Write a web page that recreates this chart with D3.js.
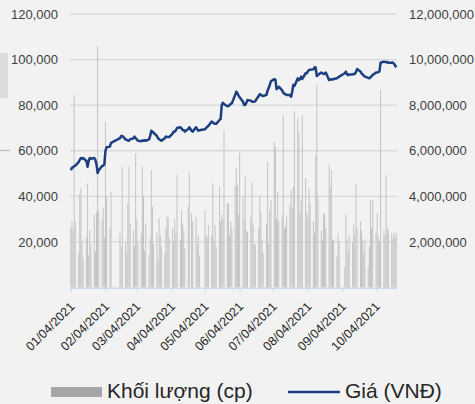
<!DOCTYPE html>
<html><head><meta charset="utf-8">
<script src="https://cdn.jsdelivr.net/npm/d3@7"></script>
<style>
html,body{margin:0;padding:0;background:#f2f2f2;}
svg{display:block;font-family:"Liberation Sans",Arial,sans-serif;}
</style>
</head><body>
<svg id="c" width="475" height="404"></svg>
<script>
// ---------- DATA ----------
const months = ["2021-01","2021-02","2021-03","2021-04","2021-05","2021-06","2021-07","2021-08","2021-09","2021-10"];
const tradingDays = [
  [4,5,6,7,8,11,12,13,14,15,18,19,20,21,22,25,26,27,28,29],
  [1,2,3,4,5,8,9,17,18,19,22,23,24,25,26],
  [1,2,3,4,5,8,9,10,11,12,15,16,17,18,19,22,23,24,25,26,29,30,31],
  [1,2,5,6,7,8,9,12,13,14,15,16,19,20,22,23,26,27,28,29],
  [4,5,6,7,10,11,12,13,14,17,18,19,20,21,24,25,26,27,28,31],
  [1,2,3,4,7,8,9,10,11,14,15,16,17,18,21,22,23,24,25,28,29,30],
  [1,2,5,6,7,8,9,12,13,14,15,16,19,20,21,22,23,26,27,28,29,30],
  [2,3,4,5,6,9,10,11,12,13,16,17,18,19,20,23,24,25,26,27,30,31],
  [1,6,7,8,9,10,13,14,15,16,17,20,21,22,23,24,27,28,29,30],
  [1,4,5,6,7,8,11,12,13,14,15,18,19,20,21,22]
];
// Giá (VNĐ), in thousands
const priceK = [
  51.5,52.5,52.8,53.2,53.5,55,56,56.8,56.5,56.8,55.5,53,55.5,56.8,56.5,56.8,56,54,50.2,51.5,
  53.3,53.5,54,60,61.5,61.8,63.5,65.5,66.5,66.5,65,64.8,64.5,64.4,65,
  65.5,66.2,65.5,65,64.4,64.2,64.5,64.4,64.6,64.4,65,66.5,68.8,68.3,67.9,66.5,65.5,65,64.8,64.4,65.5,66.2,66,
  66,66,67.5,68.4,68.4,69,70,70.3,69.8,69.1,69.1,68.4,69.5,70.3,68.8,68.4,70.3,69.5,68.8,69,
  69.4,70,70.5,70.9,72.8,72.5,72,71.8,71.8,73.5,74,80,81,80.5,79.5,79.6,80.1,80.5,80.8,84.5,
  85.9,85.2,84.2,83.5,81.5,80.1,80.1,81,82.3,82,81.5,81.5,81.5,81.8,84,84.9,84.5,84.2,84,84.5,86.5,87.5,
  89,90.5,91.4,91.2,87,87.5,88.1,86.5,85.5,85,84.8,84.5,84.5,83.7,86,88.9,88.4,91.8,91,91.5,92.5,91.5,
  94,94,94.8,95.4,95.5,95.7,96.6,96.5,92.8,93.2,94.3,94,93.7,93.8,94.3,91,91.2,91.4,91.2,91.5,91.8,92.2,
  92.5,94,94.7,93.5,93.2,93.5,93.5,93.7,93.7,94.5,95.8,94.8,94,93.5,93,92.5,92,91.8,92.2,92.8,
  93.2,94.3,94.3,94.5,94.7,98.6,99.1,99,98.8,99,98.6,98.6,98.7,98.2,97.5,96.6
];
// Khối lượng (cp), in millions
const volumeM = [
  2.6,2.9,2.5,8.45,2.9,1.5,4.1,4.35,2.0,1.3,2.2,4.57,1.4,2.5,1.9,3.2,1.6,3.3,10.57,3.4,
  3.0,3.5,2.2,7.28,4.0,2.6,4.2,2.4,1.8,5.3,2.0,1.5,3.7,5.3,2.8,
  2.5,1.8,5.89,3.0,2.0,2.4,5.3,4.0,1.6,2.8,1.4,2.2,5.16,3.55,1.9,2.4,1.2,3.04,2.3,1.8,1.5,2.6,3.1,
  3.1,2.2,2.6,2.0,3.0,2.4,4.94,2.09,3.4,2.8,2.5,1.7,3.55,5.04,3.26,2.9,3.1,1.9,2.3,1.4,
  3.4,2.3,2.2,2.75,2.3,4.57,2.0,2.75,1.8,4.43,2.9,3.2,3.0,6.9,3.7,3.68,2.3,2.9,2.6,4.43,
  5.23,4.5,3.2,5.92,4.0,3.0,4.86,2.5,2.45,3.1,4.6,2.75,1.85,1.9,2.6,4.0,3.26,2.1,1.5,2.8,5.52,1.9,
  3.4,3.84,6.4,6.18,3.0,4.2,2.9,3.2,7.57,2.6,2.7,3.1,3.62,4.28,3.5,4.43,7.72,7.42,6.77,3.3,3.84,7.57,
  4.8,3.26,3.1,4.35,3.7,2.9,2.4,5.81,8.89,4.0,2.5,2.07,3.26,3.2,2.6,5.38,4.43,5.16,2.1,2.1,1.36,2.38,
  2.0,0.9,3.2,2.1,1.55,2.3,2.0,2.75,2.3,4.54,2.6,2.9,2.5,2.1,1.55,2.1,0.95,1.8,3.84,2.6,
  3.84,2.4,3.26,2.2,2.0,8.67,2.5,2.3,4.94,2.6,2.5,2.4,2.1,2.4,2.2,2.4
];
const leftTicks = [20000,40000,60000,80000,100000,120000];
const rightTicks = [2000000,4000000,6000000,8000000,10000000,12000000];
const xTickLabels = ["01/04/2021","02/04/2021","03/04/2021","04/04/2021","05/04/2021",
                     "06/04/2021","07/04/2021","08/04/2021","09/04/2021","10/04/2021"];
const seriesNames = ["Khối lượng (cp)","Giá (VNĐ)"];

// ---------- BUILD ----------
const parseDay = d3.timeParse("%Y-%m-%d");
const dates = [];
months.forEach((m,i)=>tradingDays[i].forEach(d=>dates.push(parseDay(m+"-"+String(d).padStart(2,"0")))));
const rows = dates.map((d,i)=>({date:d, price:priceK[i]*1000, vol:volumeM[i]*1e6}));

const svg = d3.select("#c");
const W=475,H=404;
svg.append("rect").attr("width",W).attr("height",H).attr("fill","#f2f2f2");
// cropped artefacts at the left edge
svg.append("rect").attr("x",0).attr("y",53).attr("width",8).attr("height",45).attr("fill","#dcdcdc");
svg.append("line").attr("x1",0).attr("x2",10).attr("y1",150.5).attr("y2",150.5).attr("stroke","#bdbdbd").attr("stroke-width",1.3);

const x0=70, x1=397, yTop=14, yBot=287.5;
const x = d3.scaleTime().domain([parseDay("2021-01-04"), parseDay("2021-10-22")]).range([70.8, 396.2]);
const yL = d3.scaleLinear().domain([0,120000]).range([yBot,yTop]);
const yR = d3.scaleLinear().domain([0,12000000]).range([yBot,yTop]);

// gridlines
svg.append("g").selectAll("line").data(leftTicks).join("line")
  .attr("x1",x0).attr("x2",x1).attr("y1",d=>yL(d)).attr("y2",d=>yL(d))
  .attr("stroke","#d9d9d9").attr("stroke-width",1.3);

// bars
svg.append("g").selectAll("rect").data(rows).join("rect")
  .attr("x",d=>x(d.date)-0.5).attr("width",1.0)
  .attr("y",d=>yR(d.vol)).attr("height",d=>yBot-yR(d.vol))
  .attr("fill","#c4c4c4");

// price line
svg.append("path").datum(rows)
  .attr("d",d3.line().x(d=>x(d.date)).y(d=>yL(d.price)))
  .attr("fill","none").attr("stroke","#1b3f80").attr("stroke-width",2.5).attr("stroke-linejoin","round");

// left axis
const fmt = d3.format(",");
const gl = svg.append("g").attr("transform",`translate(${x0},0)`)
  .call(d3.axisLeft(yL).tickValues(leftTicks).tickSize(0).tickPadding(12).tickFormat(fmt));
gl.select(".domain").remove();
gl.selectAll("text").attr("font-size",13).attr("fill","#404040").attr("font-family","Liberation Sans, Arial, sans-serif");

const gr = svg.append("g").attr("transform",`translate(${x1},0)`)
  .call(d3.axisRight(yR).tickValues(rightTicks).tickSize(0).tickPadding(12).tickFormat(fmt));
gr.select(".domain").remove();
gr.selectAll("text").attr("font-size",13).attr("fill","#404040").attr("font-family","Liberation Sans, Arial, sans-serif");

// bottom axis
const parseTick = d3.timeParse("%m/%d/%Y");
const tickDates = xTickLabels.map(parseTick);
const gb = svg.append("g").attr("transform",`translate(0,${yBot+0.8})`)
  .call(d3.axisBottom(x).tickValues(tickDates).tickSize(3.5).tickSizeOuter(0).tickFormat(d3.timeFormat("%m/%d/%Y")));
gb.select(".domain").attr("stroke","#c9daf2").attr("stroke-width",1.4).attr("d",`M${x0},0H${x1}`);
gb.selectAll(".tick line").attr("stroke","#c9daf2").attr("stroke-width",1.2);
gb.selectAll("text")
  .attr("font-size",12.5).attr("fill","#262626").attr("font-family","Liberation Sans, Arial, sans-serif")
  .attr("text-anchor","end").attr("dy",null).attr("y",null)
  .attr("transform","translate(4,19) rotate(-45)");

// legend
const lg = svg.append("g");
lg.append("rect").attr("x",51).attr("y",387).attr("width",51).attr("height",10).attr("fill","#a6a6a6");
lg.append("text").attr("x",107).attr("y",398).attr("font-size",21).attr("fill","#262626").text(seriesNames[0]);
lg.append("line").attr("x1",288).attr("x2",340).attr("y1",392).attr("y2",392).attr("stroke","#1b3f80").attr("stroke-width",2.4);
lg.append("text").attr("x",345).attr("y",398).attr("font-size",21).attr("fill","#262626").text(seriesNames[1]);
</script>
</body></html>
